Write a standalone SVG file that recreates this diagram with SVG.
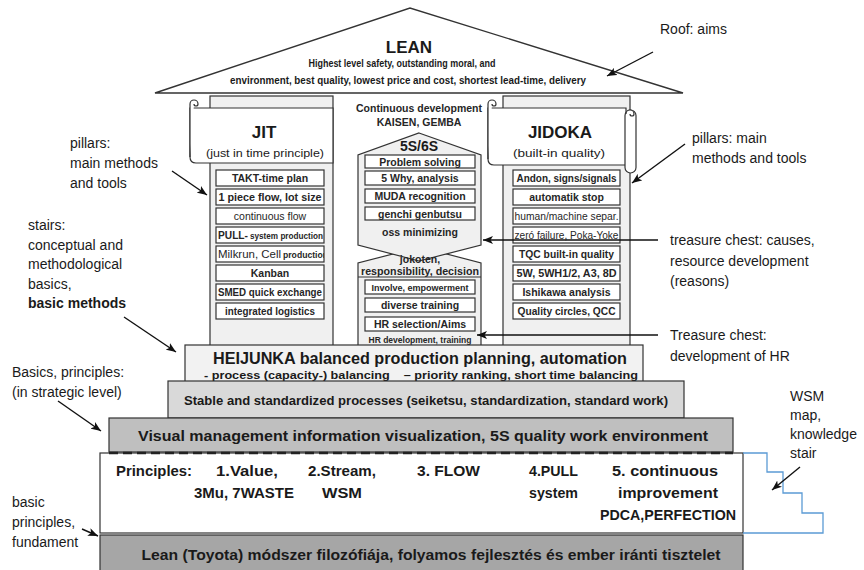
<svg xmlns="http://www.w3.org/2000/svg" width="864" height="570" viewBox="0 0 864 570">
<defs>
<style>
text{font-family:"Liberation Sans",Arial,sans-serif;fill:#1a1a1a}
.b{font-weight:bold}
.it{font-size:10.5px;font-weight:bold;text-anchor:middle;fill:#262626}
.its{font-size:10.5px;font-weight:bold;text-anchor:start;fill:#262626}
.box{fill:#fff;stroke:#333;stroke-width:1.2}
.pil{fill:#f0f0f0;stroke:#333;stroke-width:1.2}
.ann{font-size:14px}
.c{text-anchor:middle}
.ln{stroke:#111;stroke-width:1.4;fill:none}
</style>
<marker id="ah" markerUnits="userSpaceOnUse" markerWidth="10" markerHeight="8" refX="10" refY="4" orient="auto">
<path d="M0,0 L10,4 L0,8 L2.5,4 Z" fill="#111"/>
</marker>
<clipPath id="clipMilk"><rect x="217" y="246" width="107" height="16"/></clipPath>
</defs>
<rect width="864" height="570" fill="#fff"/>

<g id="roof">
<polygon points="155,93 410,8 683,93" fill="#fff" stroke="#333" stroke-width="1.4"/>
<text x="409" y="53" class="b c" font-size="17">LEAN</text>
<text x="402" y="67" class="b c" font-size="10" textLength="187" lengthAdjust="spacingAndGlyphs">Highest level safety, outstanding moral, and</text>
<text x="408" y="84" class="b c" font-size="10" textLength="356" lengthAdjust="spacingAndGlyphs">environment, best quality, lowest  price and cost, shortest lead-time, delivery</text>
</g>

<g id="jit">
<rect x="210" y="96" width="123" height="252" class="pil"/>
<path d="M190,108 L333,108 L333,163 L196,163 Q190,163 190,157 Z" class="box"/>
<path d="M190,157 V104 A4,4 0 1 1 198,104 A2,2 0 1 1 194,104" class="box" fill="#fff"/>
<text x="264" y="138" class="b c" font-size="17">JIT</text>
<text x="265" y="157" class="c" font-size="11.5" textLength="118" lengthAdjust="spacingAndGlyphs">(just in time principle)</text>
<rect x="216" y="170" width="108" height="16" class="box"/>
<rect x="216" y="189" width="108" height="16" class="box"/>
<rect x="216" y="208" width="108" height="16" class="box"/>
<rect x="216" y="227" width="108" height="16" class="box"/>
<rect x="216" y="246" width="108" height="16" class="box"/>
<rect x="216" y="265" width="108" height="16" class="box"/>
<rect x="216" y="284" width="108" height="16" class="box"/>
<rect x="216" y="303" width="108" height="16" class="box"/>
<text x="270" y="182" class="it">TAKT-time plan</text>
<text x="270" y="201" class="it" textLength="103" lengthAdjust="spacingAndGlyphs">1 piece flow, lot  size</text>
<text x="270" y="220" class="it" style="font-weight:normal">continuous flow</text>
<text x="218" y="239" class="its" textLength="30" lengthAdjust="spacingAndGlyphs">PULL-</text>
<text x="250" y="239" class="its" style="font-size:8.5px" textLength="73" lengthAdjust="spacingAndGlyphs">system production</text>
<text x="218" y="258" class="its" style="font-weight:normal" textLength="63" lengthAdjust="spacingAndGlyphs">Milkrun, Cell</text>
<text x="283" y="258" class="its" style="font-size:8.5px" clip-path="url(#clipMilk)" textLength="45" lengthAdjust="spacingAndGlyphs">production</text>
<text x="270" y="277" class="it">Kanban</text>
<text x="270" y="296" class="it" textLength="104" lengthAdjust="spacingAndGlyphs">SMED quick exchange</text>
<text x="270" y="315" class="it" textLength="90" lengthAdjust="spacingAndGlyphs">integrated logistics</text>
</g>

<g id="jidoka">
<rect x="503" y="96" width="127" height="252" class="pil"/>
<path d="M488,108 L626,108 L626,165 L494,165 Q488,165 488,159 Z" class="box"/>
<path d="M488,159 V104 A4,4 0 1 1 496,104 A2,2 0 1 1 492,104" class="box" fill="#fff"/>
<rect x="625" y="110" width="11" height="63" rx="5.5" class="box"/>
<path d="M626,114 A4,4 0 1 1 634,114 A2,2 0 1 1 630,114" class="box" fill="#fff"/>
<text x="560" y="138" class="b c" font-size="17">JIDOKA</text>
<text x="559" y="157" class="c" font-size="11.5" textLength="92" lengthAdjust="spacingAndGlyphs">(built-in quality)</text>
<rect x="513" y="170" width="107" height="16" class="box"/>
<rect x="513" y="189" width="107" height="16" class="box"/>
<rect x="513" y="208" width="107" height="16" class="box"/>
<rect x="513" y="227" width="107" height="16" class="box"/>
<rect x="513" y="246" width="107" height="16" class="box"/>
<rect x="513" y="265" width="107" height="16" class="box"/>
<rect x="513" y="284" width="107" height="16" class="box"/>
<rect x="513" y="303" width="107" height="16" class="box"/>
<text x="566.5" y="182" class="it" textLength="100" lengthAdjust="spacingAndGlyphs">Andon, signs/signals</text>
<text x="566.5" y="201" class="it">automatik stop</text>
<text x="566.5" y="220" class="it" style="font-weight:normal" textLength="104" lengthAdjust="spacingAndGlyphs">human/machine separ.</text>
<text x="566.5" y="239" class="it" style="font-weight:normal" textLength="104" lengthAdjust="spacingAndGlyphs">zeró failure, Poka-Yoke</text>
<text x="566.5" y="258" class="it" textLength="95" lengthAdjust="spacingAndGlyphs">TQC built-in quality</text>
<text x="566.5" y="277" class="it" textLength="100" lengthAdjust="spacingAndGlyphs">5W, 5WH1/2, A3, 8D</text>
<text x="566.5" y="296" class="it">Ishikawa analysis</text>
<text x="566.5" y="315" class="it" textLength="98" lengthAdjust="spacingAndGlyphs">Quality circles, QCC</text>
</g>

<g id="kaizen">
<text x="419" y="112" class="it">Continuous development</text>
<text x="419" y="126" class="it">KAISEN, GEMBA</text>
<polygon points="420,247 481,263 481,348 358,348 358,263" class="pil"/>
<polygon points="419,133 481,155 481,245 419,261 358,245 358,155" class="pil"/>
<text x="419" y="151" class="b c" font-size="14">5S/6S</text>
<rect x="365" y="155" width="110" height="13" class="box"/>
<rect x="365" y="171" width="110" height="14" class="box"/>
<rect x="365" y="189" width="110" height="14" class="box"/>
<rect x="365" y="207" width="110" height="13" class="box"/>
<text x="420" y="165.5" class="it">Problem solving</text>
<text x="420" y="182" class="it">5 Why, analysis</text>
<text x="420" y="200" class="it">MUDA recognition</text>
<text x="420" y="217.5" class="it">genchi genbutsu</text>
<text x="420" y="236" class="it">oss minimizing</text>
</g>

<g id="hr">
<text x="420" y="263" class="it">jokoten,</text>
<text x="420" y="274.5" class="it" textLength="118" lengthAdjust="spacingAndGlyphs">responsibility, decision</text>
<line x1="358" y1="277" x2="481" y2="277" stroke="#333" stroke-width="1.2"/>
<rect x="365" y="280" width="110" height="14" class="box"/>
<rect x="365" y="298" width="110" height="14" class="box"/>
<rect x="365" y="317" width="110" height="14" class="box"/>
<text x="420" y="290.5" class="it" style="font-size:9px">Involve, empowerment</text>
<text x="420" y="309" class="it">diverse training</text>
<text x="420" y="328" class="it">HR selection/Aims</text>
<text x="420" y="343" class="it" style="font-size:8.5px">HR development, training</text>
</g>

<g id="heijunka">
<rect x="185" y="345" width="458" height="37" fill="#f2f2f2" stroke="#333" stroke-width="1.2"/>
<text x="420" y="364" class="b c" font-size="16" textLength="414" lengthAdjust="spacingAndGlyphs">HEIJUNKA balanced production planning, automation</text>
<text x="204" y="379" class="b" font-size="11.5" xml:space="preserve" textLength="434" lengthAdjust="spacingAndGlyphs">- process (capacity-) balancing    – priority ranking, short time balancing</text>
</g>

<g id="stable">
<rect x="168" y="381" width="516" height="37" fill="#d9d9d9" stroke="#333" stroke-width="1.2"/>
<text x="426" y="405" class="b c" font-size="13.5" textLength="484" lengthAdjust="spacingAndGlyphs">Stable and standardized processes (seiketsu, standardization, standard work)</text>
</g>

<g id="visual">
<rect x="109" y="418" width="624" height="34" fill="#bfbfbf" stroke="#333" stroke-width="1.2"/>
<text x="423" y="441" class="b c" font-size="15.5" textLength="570" lengthAdjust="spacingAndGlyphs">Visual management information visualization, 5S quality work environment</text>
</g>

<g id="principles">
<rect x="100" y="453" width="643" height="80" fill="#fff" stroke="#333" stroke-width="1.2"/>
<line x1="109" y1="453" x2="733" y2="453" stroke="#222" stroke-width="2.5" stroke-dasharray="9,5"/>
<text x="116" y="476" class="b" font-size="15" textLength="76" lengthAdjust="spacingAndGlyphs">Principles:</text>
<text x="216" y="476" class="b" font-size="15" textLength="62" lengthAdjust="spacingAndGlyphs">1.Value,</text>
<text x="194" y="498" class="b" font-size="15" textLength="100" lengthAdjust="spacingAndGlyphs">3Mu, 7WASTE</text>
<text x="308" y="476" class="b" font-size="15" textLength="68" lengthAdjust="spacingAndGlyphs">2.Stream,</text>
<text x="322" y="498" class="b" font-size="15" textLength="40" lengthAdjust="spacingAndGlyphs">WSM</text>
<text x="417" y="476" class="b" font-size="15" textLength="63" lengthAdjust="spacingAndGlyphs">3. FLOW</text>
<text x="529" y="476" class="b" font-size="15" textLength="49" lengthAdjust="spacingAndGlyphs">4.PULL</text>
<text x="529" y="498" class="b" font-size="15" textLength="49" lengthAdjust="spacingAndGlyphs">system</text>
<text x="612" y="476" class="b" font-size="15" textLength="106" lengthAdjust="spacingAndGlyphs">5. continuous</text>
<text x="618" y="498" class="b" font-size="15" textLength="100" lengthAdjust="spacingAndGlyphs">improvement</text>
<text x="600" y="520" class="b" font-size="15" textLength="136" lengthAdjust="spacingAndGlyphs">PDCA,PERFECTION</text>
</g>

<g id="lean-base">
<rect x="100" y="535" width="643" height="40" fill="#a6a6a6" stroke="#333" stroke-width="1.2"/>
<text x="431" y="560" class="b c" font-size="15.5" textLength="579" lengthAdjust="spacingAndGlyphs">Lean (Toyota) módszer filozófiája, folyamos fejlesztés és ember iránti tisztelet</text>
</g>

<g id="wsm-stair">
<path d="M743,453 H767 V472 H783 V493 H802 V513 H823 V533 H743" fill="none" stroke="#5b9bd5" stroke-width="1.3"/>
</g>

<g id="labels">
<text x="660" y="34" class="ann">Roof: aims</text>
<text x="692" y="143" class="ann">pillars: main</text>
<text x="692" y="163" class="ann">methods and tools</text>
<text x="670" y="245" class="ann">treasure chest: causes,</text>
<text x="670" y="266" class="ann">resource development</text>
<text x="670" y="286" class="ann">(reasons)</text>
<text x="670" y="340" class="ann">Treasure chest:</text>
<text x="670" y="361" class="ann">development of HR</text>
<text x="790" y="401" class="ann">WSM</text>
<text x="790" y="420" class="ann">map,</text>
<text x="790" y="439" class="ann">knowledge</text>
<text x="790" y="458" class="ann">stair</text>
<text x="70" y="148" class="ann">pillars:</text>
<text x="70" y="168" class="ann">main methods</text>
<text x="70" y="188" class="ann">and tools</text>
<text x="28" y="230" class="ann">stairs:</text>
<text x="28" y="250" class="ann">conceptual and</text>
<text x="28" y="269" class="ann">methodological</text>
<text x="28" y="289" class="ann">basics,</text>
<text x="28" y="308" class="ann b">basic methods</text>
<text x="12" y="377" class="ann">Basics, principles:</text>
<text x="12" y="397" class="ann">(in strategic level)</text>
<text x="12" y="507" class="ann">basic</text>
<text x="12" y="527" class="ann">principles,</text>
<text x="12" y="547" class="ann">fundament</text>
</g>

<g id="connectors">
<line x1="653" y1="52" x2="607" y2="76" class="ln" marker-end="url(#ah)"/>
<line x1="685" y1="144" x2="632" y2="183" class="ln" marker-end="url(#ah)"/>
<line x1="658" y1="240" x2="483" y2="240" class="ln" marker-end="url(#ah)"/>
<line x1="658" y1="335" x2="477" y2="335" class="ln" marker-end="url(#ah)"/>
<line x1="800" y1="467" x2="772" y2="490" class="ln" marker-end="url(#ah)"/>
<line x1="172" y1="171" x2="207" y2="195" class="ln" marker-end="url(#ah)"/>
<line x1="124" y1="317" x2="176" y2="352" class="ln" marker-end="url(#ah)"/>
<line x1="58" y1="401" x2="101" y2="431" class="ln" marker-end="url(#ah)"/>
<line x1="82" y1="529" x2="98" y2="536" class="ln" marker-end="url(#ah)"/>
</g>
</svg>
